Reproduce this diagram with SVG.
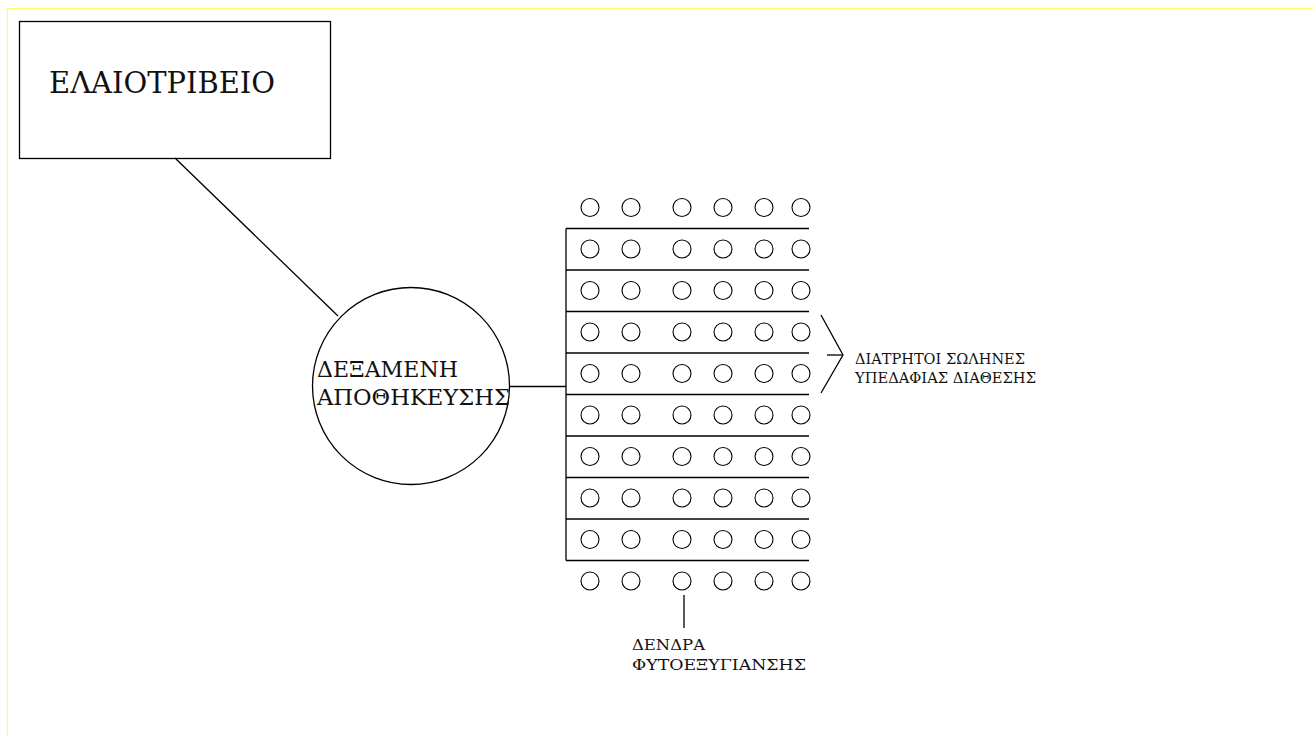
<svg xmlns="http://www.w3.org/2000/svg" width="1313" height="737" viewBox="0 0 1313 737">
<defs>
<style>
.ln{stroke:#000;stroke-width:1.3;fill:none}
.tree{stroke:#000;stroke-width:1.1;fill:#fff}
.t{font-family:"DejaVu Serif","Liberation Serif",serif;fill:#111}
</style>
<g id="treeRow">
<circle class="tree" cx="590" cy="0" r="9"/>
<circle class="tree" cx="631" cy="0" r="9"/>
<circle class="tree" cx="682" cy="0" r="9"/>
<circle class="tree" cx="723" cy="0" r="9"/>
<circle class="tree" cx="764" cy="0" r="9"/>
<circle class="tree" cx="801" cy="0" r="9"/>
</g>
</defs>
<rect width="1313" height="737" fill="#fff"/>
<path d="M7.5 737 V8.5 H1313" stroke="#ffff66" stroke-width="1.2" fill="none"/>
<g id="connectors">
<line class="ln" x1="175" y1="158" x2="338" y2="316"/>
<line class="ln" x1="509" y1="386.5" x2="566" y2="386.5"/>
<line class="ln" x1="684" y1="595" x2="684" y2="628"/>
<polyline class="ln" points="821,315 843,355 821,393"/>
<line class="ln" x1="827" y1="355" x2="843" y2="355"/>
</g>
<g id="elaiotriveio">
<rect class="ln" x="19.5" y="21.5" width="311" height="137"/>
<text class="t" x="49" y="93" font-size="29" textLength="226" lengthAdjust="spacingAndGlyphs">ΕΛΑΙΟΤΡΙΒΕΙΟ</text>
</g>
<g id="dexameni">
<circle class="ln" cx="411" cy="386" r="98.5"/>
<text class="t" x="317" y="376.5" font-size="23" textLength="141" lengthAdjust="spacingAndGlyphs">ΔΕΞΑΜΕΝΗ</text>
<text class="t" x="317" y="405" font-size="23" textLength="193" lengthAdjust="spacingAndGlyphs">ΑΠΟΘΗΚΕΥΣΗΣ</text>
</g>
<g id="pipes">
<line class="ln" x1="566" y1="228.5" x2="566" y2="560.5"/>
<line class="ln" x1="566" y1="228.5" x2="809" y2="228.5"/>
<line class="ln" x1="566" y1="270" x2="809" y2="270"/>
<line class="ln" x1="566" y1="311.5" x2="809" y2="311.5"/>
<line class="ln" x1="566" y1="353" x2="809" y2="353"/>
<line class="ln" x1="566" y1="394.5" x2="809" y2="394.5"/>
<line class="ln" x1="566" y1="436" x2="809" y2="436"/>
<line class="ln" x1="566" y1="477.5" x2="809" y2="477.5"/>
<line class="ln" x1="566" y1="519" x2="809" y2="519"/>
<line class="ln" x1="566" y1="560.5" x2="809" y2="560.5"/>
</g>
<g id="trees">
<use href="#treeRow" y="207.5"/>
<use href="#treeRow" y="249"/>
<use href="#treeRow" y="290.5"/>
<use href="#treeRow" y="332"/>
<use href="#treeRow" y="373.5"/>
<use href="#treeRow" y="415"/>
<use href="#treeRow" y="456.5"/>
<use href="#treeRow" y="498"/>
<use href="#treeRow" y="539.5"/>
<use href="#treeRow" y="581"/>
</g>
<g id="label-pipes">
<text class="t" x="855" y="364" font-size="15.5" textLength="170" lengthAdjust="spacingAndGlyphs">ΔΙΑΤΡΗΤΟΙ ΣΩΛΗΝΕΣ</text>
<text class="t" x="855" y="383" font-size="15.5" textLength="181" lengthAdjust="spacingAndGlyphs">ΥΠΕΔΑΦΙΑΣ ΔΙΑΘΕΣΗΣ</text>
</g>
<g id="label-trees">
<text class="t" x="632" y="650" font-size="15.5" textLength="73" lengthAdjust="spacingAndGlyphs">ΔΕΝΔΡΑ</text>
<text class="t" x="632" y="670" font-size="15.5" textLength="174" lengthAdjust="spacingAndGlyphs">ΦΥΤΟΕΞΥΓΙΑΝΣΗΣ</text>
</g>
</svg>
